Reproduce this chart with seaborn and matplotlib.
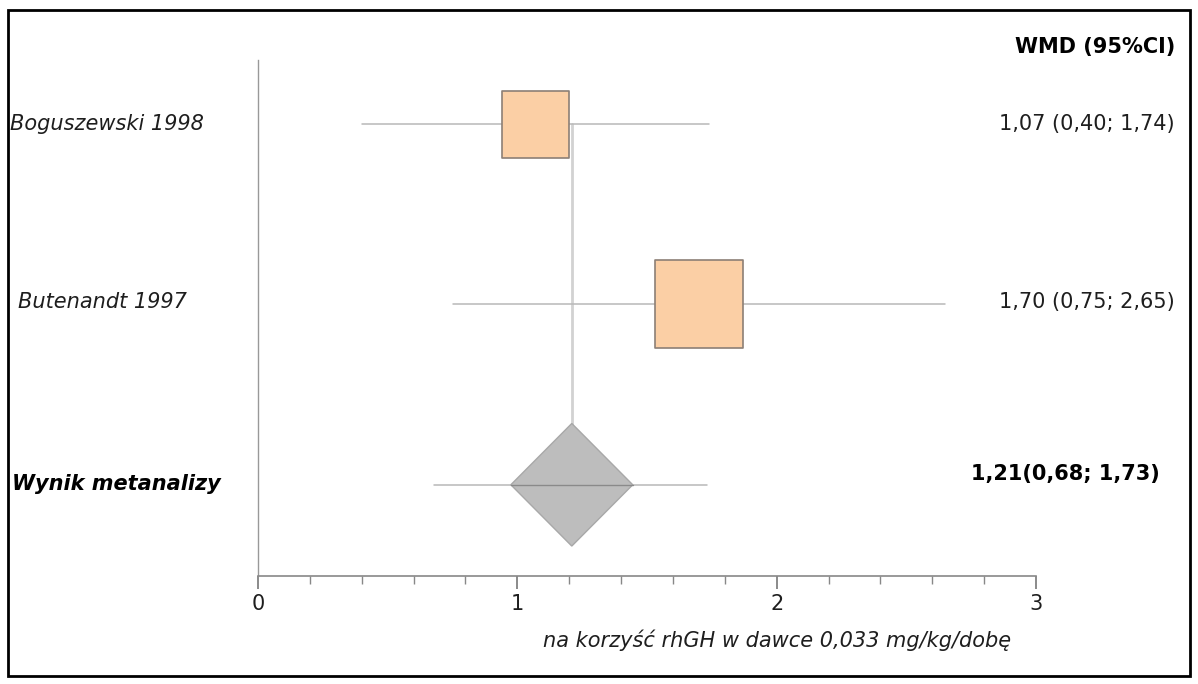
import numpy as np
import pandas as pd
import seaborn as sns
import matplotlib.pyplot as plt
from matplotlib.patches import Rectangle
from matplotlib.transforms import blended_transform_factory

# data
studies = ["Boguszewski 1998", "Butenandt 1997"]
wmd = [1.07, 1.70]
ci_low = [0.40, 0.75]
ci_high = [1.74, 2.65]
study_labels = ["1,07 (0,40; 1,74)", "1,70 (0,75; 2,65)"]

pooled_name = "Wynik metanalizy"
pooled_wmd = 1.21
pooled_low = 0.68
pooled_high = 1.73
pooled_label = "1,21(0,68; 1,73)"

x_ticks = [0, 1, 2, 3]
x_label = "na korzyść rhGH w dawce 0,033 mg/kg/dobę"
col_title = "WMD (95%CI)"

# style
box_px = [67, 88]          # square marker side in pixels
diamond_half_w = 0.235     # in x units
diamond_half_h = 0.34      # in row units
box_color = "#fbcfa5"
box_edge = "#8c7f76"
line_color = "#b8b8b8"
text_color = "#1e1e1e"
fs = 15

sns.set_style("white")
plt.rcParams['font.family'] = ['DejaVu Sans']

fig = plt.figure(figsize=(11.98, 6.84), dpi=100)
W, H = 1198, 684
ax = fig.add_axes([258 / W, (H - 576) / H, 778 / W, 516 / H])

df = pd.DataFrame({"study": studies, "wmd": wmd, "low": ci_low, "high": ci_high})
df["row"] = np.arange(len(df))
pooled_row = len(df)

# vertical line at pooled estimate
ax.plot([pooled_wmd, pooled_wmd], [0, pooled_row], color="#d2d2d2", lw=2, zorder=1)

# confidence intervals
for _, r in df.iterrows():
    ax.plot([r["low"], r["high"]], [r["row"], r["row"]], color=line_color, lw=1.1, zorder=2)
ax.plot([pooled_low, pooled_high], [pooled_row, pooled_row], color=line_color, lw=1.1, zorder=2)

# study boxes
for i, r in df.iterrows():
    side_pt = box_px[i] * 72 / 100
    sns.scatterplot(x=[r["wmd"]], y=[r["row"]], ax=ax, marker="s", s=side_pt ** 2,
                    color=box_color, edgecolor=box_edge, linewidth=1.2, zorder=3)

# pooled diamond
dx = [pooled_wmd - diamond_half_w, pooled_wmd, pooled_wmd + diamond_half_w, pooled_wmd]
dy = [pooled_row, pooled_row - diamond_half_h, pooled_row, pooled_row + diamond_half_h]
ax.fill(dx, dy, facecolor="#bdbdbd", edgecolor="#a8a8a8", lw=1, zorder=3)
ax.plot([dx[0], dx[2]], [pooled_row, pooled_row], color="#8a8a8a", lw=1, zorder=4)

ax.set_xlim(0, 3)
ax.set_ylim(pooled_row + 0.506, -0.356)
ax.set_xticks(x_ticks)
ax.set_xticklabels([str(t) for t in x_ticks], fontsize=fs, color=text_color)
ax.set_xticks(np.arange(0, 3.01, 0.2), minor=True)
ax.tick_params(axis="x", which="both", bottom=True)
ax.tick_params(axis="x", which="major", direction="out", length=9, width=1.2, color="#777777", pad=4)
ax.tick_params(axis="x", which="minor", direction="out", length=6, width=1, color="#888888")
ax.set_yticks([])
ax.set_xlabel("")
ax.set_ylabel("")
for s in ["top", "right"]:
    ax.spines[s].set_visible(False)
ax.spines["bottom"].set_color("#888888")
ax.spines["left"].set_color("#999999")
ax.spines["bottom"].set_linewidth(1.2)
ax.spines["left"].set_linewidth(1.0)
ax.patch.set_alpha(0)

# text
fig.text(10 / W, 1 - 124 / H, studies[0], style="italic", fontsize=fs, color=text_color, va="center")
fig.text(18 / W, 1 - 302 / H, studies[1], style="italic", fontsize=fs, color=text_color, va="center")
fig.text(12 / W, 1 - 484 / H, pooled_name, style="italic", weight="bold", fontsize=fs,
         color="black", va="center")
fig.text(1175 / W, 1 - 47 / H, col_title, weight="bold", fontsize=fs, color="black",
         ha="right", va="center")
fig.text(1175 / W, 1 - 124 / H, study_labels[0], fontsize=fs, color=text_color, ha="right", va="center")
fig.text(1175 / W, 1 - 302 / H, study_labels[1], fontsize=fs, color=text_color, ha="right", va="center")
fig.text(1160 / W, 1 - 474 / H, pooled_label, weight="bold", fontsize=fs, color="black",
         ha="right", va="center")
trans = blended_transform_factory(ax.transData, fig.transFigure)
ax.text(2.0, 1 - 640 / H, x_label, transform=trans, style="italic", fontsize=fs,
        color=text_color, ha="center", va="center")

# outer frame
fig.patches.append(Rectangle((8 / W, 8 / H), 1182 / W, 666 / H, transform=fig.transFigure,
                             fill=False, edgecolor="black", lw=2))

fig.savefig("out.png", dpi=100)
